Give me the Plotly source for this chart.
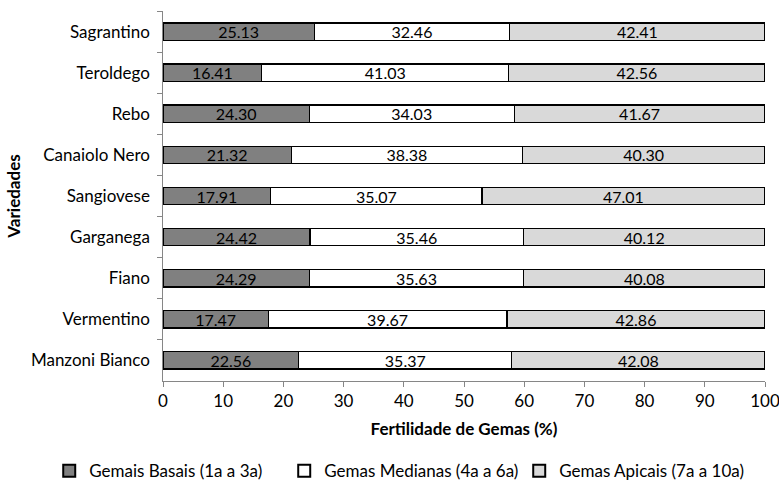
import plotly.graph_objects as go

variedades = ["Sagrantino", "Teroldego", "Rebo", "Canaiolo Nero", "Sangiovese",
              "Garganega", "Fiano", "Vermentino", "Manzoni Bianco"]
basais = [25.13, 16.41, 24.30, 21.32, 17.91, 24.42, 24.29, 17.47, 22.56]
medianas = [32.46, 41.03, 34.03, 38.38, 35.07, 35.46, 35.63, 39.67, 35.37]
apicais = [42.41, 42.56, 41.67, 40.30, 47.01, 40.12, 40.08, 42.86, 42.08]
series_names = ["Gemais Basais (1a a 3a)", "Gemas Medianas (4a a 6a)", "Gemas Apicais (7a a 10a)"]
colors = ["#808080", "#ffffff", "#d9d9d9"]

FONT = "Lato, 'Open Sans', sans-serif"
FS = 17

fig = go.Figure()
for name, vals, col in zip(series_names, [basais, medianas, apicais], colors):
    fig.add_trace(go.Bar(
        y=variedades, x=vals, name=name, orientation="h",
        marker=dict(color=col, line=dict(color="#000000", width=1.3)),
        text=[f"{v:.2f}" for v in vals], textposition="inside",
        insidetextanchor="middle", textangle=0,
        textfont=dict(color="#000000", size=16, family=FONT),
        constraintext="none",
    ))

fig.update_layout(
    barmode="stack",
    bargap=0.58,
    width=779, height=488,
    margin=dict(l=163, r=14, t=11, b=107, autoexpand=False),
    paper_bgcolor="white", plot_bgcolor="white",
    font=dict(family=FONT, size=FS, color="#000000"),
    uniformtext=dict(mode=False),
    showlegend=True,
    legend=dict(orientation="h", x=-0.189, xref="paper", xanchor="left",
                y=-0.195, yanchor="top", traceorder="normal",
                font=dict(size=FS, family=FONT), itemwidth=30, itemsizing="constant",
                entrywidth=190, entrywidthmode="pixels"),
    xaxis=dict(range=[0, 100], dtick=10, showgrid=False, zeroline=False, automargin=False,
               showline=True, linecolor="#868686", linewidth=1,
               ticks="outside", ticklen=5, tickcolor="#868686",
               tickfont=dict(size=FS), ticklabeloverflow="allow",
               title=dict(text="<b>Fertilidade de Gemas (%)</b>", font=dict(size=FS), standoff=12)),
    yaxis=dict(categoryorder="array", categoryarray=variedades, autorange="reversed",
               automargin=False,
               showgrid=False, zeroline=False, showline=True, linecolor="#868686", linewidth=1,
               ticks="outside", ticklen=5, tickcolor="#868686", tickson="boundaries",
               tickfont=dict(size=FS), ticksuffix="  ", ticklabeloverflow="allow",
               title=dict(text="<b>Variedades</b>", font=dict(size=FS), standoff=5)),
)

fig.write_html("out.html", config={"displayModeBar": False},
               post_script="document.body.style.margin='0';")
